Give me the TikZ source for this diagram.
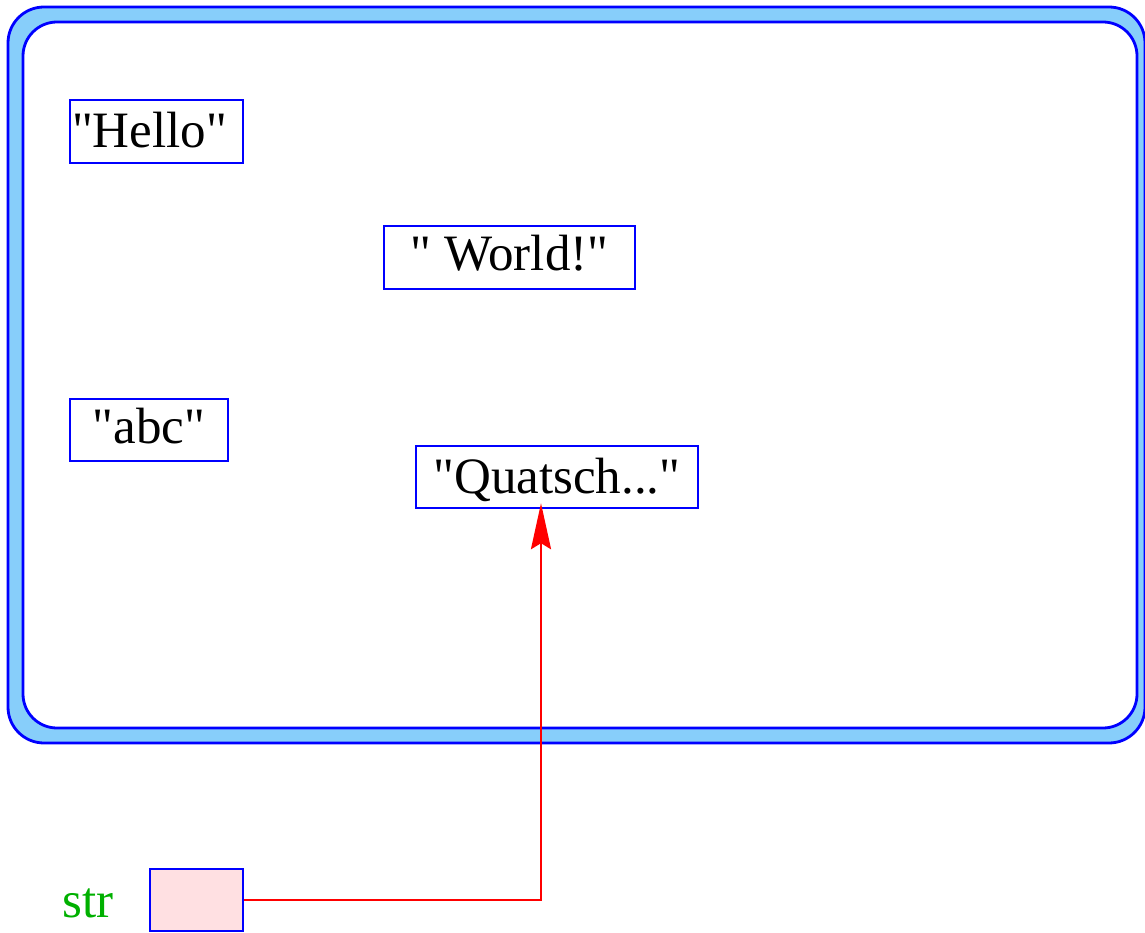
\documentclass[tikz,border=0pt]{standalone}
\usepackage{fontspec}
\setmainfont{Liberation Serif}[Ligatures=TeXOff]
\usetikzlibrary{arrows.meta}
\definecolor{frameblue}{RGB}{0,0,255}
\definecolor{framefill}{RGB}{135,206,250}
\definecolor{ptrfill}{RGB}{255,224,226}
\definecolor{lblgreen}{RGB}{0,176,0}
\definecolor{ptrred}{RGB}{255,0,0}
\tikzset{
  strbox/.style={draw=frameblue, line width=2.4pt, fill=white, inner sep=0pt,
    text height=35pt, text depth=2pt, font=\fontsize{51}{60}\selectfont},
  ptrbox/.style={draw=frameblue, line width=2.4pt, fill=ptrfill, inner sep=0pt,
    minimum width=93pt, minimum height=62pt},
  varlabel/.style={text=lblgreen, inner sep=0pt, anchor=base, font=\fontsize{51}{60}\selectfont},
  ptrline/.style={draw=ptrred, line width=2.4pt,
    -{Stealth[length=46pt, width=20pt, inset=6pt]}, shorten >=-6pt},
}
\begin{document}
\begin{tikzpicture}[x=1pt, y=-1pt]
  \useasboundingbox (0,0) rectangle (1145,933);
  % heap frame
  \draw[frameblue, line width=2.8pt, fill=framefill, rounded corners=36pt]
    (8,7) rectangle (1145,743);
  \draw[frameblue, line width=2.8pt, fill=white, rounded corners=34pt]
    (23,22) rectangle (1137,728);
  % strings
  \node[strbox, minimum width=173pt, minimum height=63pt] (hello) at (156.5,131.5) {"Hello"\hspace*{14pt}};
  \node[strbox, minimum width=251pt, minimum height=63pt, text depth=10pt] (world) at (509.5,257.5) {" World!"};
  \node[strbox, minimum width=158pt, minimum height=62pt, text depth=9pt] (abc) at (149,430) {"abc"};
  \node[strbox, minimum width=282pt, minimum height=62pt, text depth=3pt] (quatsch) at (557,477) {"Quatsch..."};
  % variable
  \node[varlabel] (strlbl) at (88,917) {str};
  \node[ptrbox] (strvar) at (196.5,900) {};
  \draw[ptrline] (strvar.east) -| ([xshift=-16pt]quatsch.south);
\end{tikzpicture}
\end{document}
